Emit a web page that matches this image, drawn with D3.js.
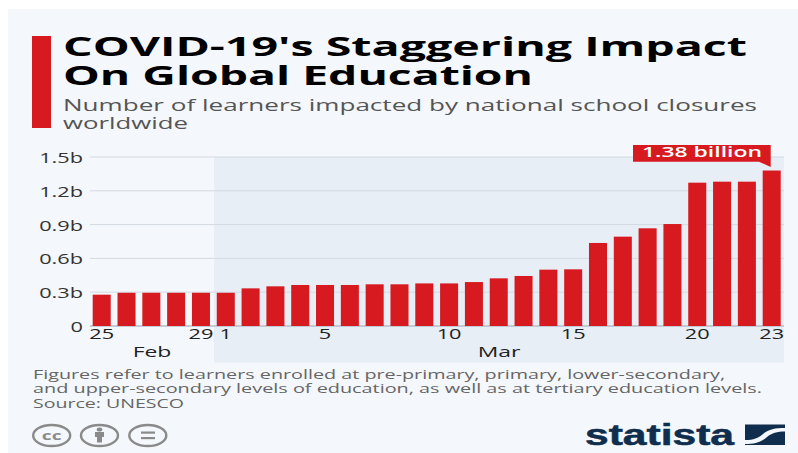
<!DOCTYPE html>
<html><head><meta charset="utf-8">
<script src="https://cdn.jsdelivr.net/npm/d3@7"></script>
<style>
html,body{margin:0;padding:0;background:#fff;overflow:hidden}
svg{display:block}
text{font-family:"Open Sans",sans-serif}
</style></head><body>
<svg id="c" width="798" height="453"></svg>
<script>
const days=["25 Feb","26 Feb","27 Feb","28 Feb","29 Feb","1 Mar","2 Mar","3 Mar","4 Mar","5 Mar","6 Mar","7 Mar","8 Mar","9 Mar","10 Mar","11 Mar","12 Mar","13 Mar","14 Mar","15 Mar","16 Mar","17 Mar","18 Mar","19 Mar","20 Mar","21 Mar","22 Mar","23 Mar"];
const learners=[0.278,0.295,0.295,0.295,0.295,0.295,0.334,0.352,0.364,0.364,0.364,0.37,0.37,0.378,0.378,0.39,0.423,0.444,0.5,0.503,0.737,0.793,0.867,0.905,1.272,1.281,1.281,1.38];
const yTicks=[0,0.3,0.6,0.9,1.2,1.5];
const xTicks=["25 Feb","29 Feb","1 Mar","5 Mar","10 Mar","15 Mar","20 Mar","23 Mar"];
const titleLines=[["COVID-19's Staggering Impact",747],["On Global Education",533]];
const subtitleLines=[["Number of learners impacted by national school closures",757],["worldwide",188]];
const footLines=[["Figures refer to learners enrolled at pre-primary, primary, lower-secondary,",725,379],["and upper-secondary levels of education, as well as at tertiary education levels.",762,392.5],["Source: UNESCO",184,408]];

const RED="#d71920",NAVY="#0f2d4d",PANEL="#f4f7fb";
const svg=d3.select("#c");
svg.append("rect").attr("x",8).attr("y",9).attr("width",790).attr("height",444).attr("fill",PANEL);
svg.append("rect").attr("x",214).attr("y",157).attr("width",570).attr("height",205.5).attr("fill","#e8eef6");
svg.append("rect").attr("x",32).attr("y",36).attr("width",19).attr("height",92).attr("fill",RED);

function fit(t,x,y,right,size,weight,fill){
  svg.append("text").attr("x",x).attr("y",y).attr("font-size",size).attr("font-weight",weight).attr("fill",fill)
    .attr("textLength",right-x).attr("lengthAdjust","spacingAndGlyphs").text(t);
}
titleLines.forEach((l,i)=>fit(l[0],63,[56,85][i],l[1],27.5,700,"#000"));
subtitleLines.forEach((l,i)=>fit(l[0],63,[111,129][i],l[1],16.5,400,"#555"));
footLines.forEach(l=>fit(l[0],33,l[2],l[1],13,400,"#666"));

const x=d3.scaleBand().domain(days).range([92.7,780.7]).paddingInner(0.274).paddingOuter(0);
const y=d3.scaleLinear().domain([0,1.5]).range([326,157]);

const yAxis=d3.axisLeft(y).tickValues(yTicks).tickFormat(d=>d===0?"0":d3.format(".1f")(d)+"b").tickSize(0);
const gy=svg.append("g").attr("transform","translate(83,0)").call(yAxis);
gy.select(".domain").remove();
gy.selectAll("text").attr("x",0).attr("dy",5.5).attr("font-size",14.5).attr("fill","#333").attr("transform","scale(1.5,1)").style("font-family","'Open Sans'");

svg.append("g").selectAll("line").data(yTicks).join("line")
  .attr("x1",90).attr("x2",784).attr("y1",d=>y(d)).attr("y2",d=>y(d))
  .attr("stroke",d=>d===0?"#b4bcc8":"#d3d9e2").attr("stroke-width",d=>d===0?1.5:1);

svg.append("g").selectAll("rect").data(days).join("rect")
  .attr("x",d=>x(d)).attr("width",x.bandwidth())
  .attr("y",(d,i)=>y(learners[i])).attr("height",(d,i)=>y(0)-y(learners[i])).attr("fill",RED);

const xAxis=d3.axisBottom(x).tickValues(xTicks).tickFormat(d=>d.split(" ")[0]).tickSize(0);
const gx=svg.append("g").attr("transform","translate(0,326)").call(xAxis);
gx.select(".domain").remove();
gx.selectAll("text").attr("y",13).attr("dy",0).attr("font-size",14.5).attr("fill","#222").attr("transform","scale(1.5,1)").style("font-family","'Open Sans'");

[["Feb",152],["Mar",499]].forEach(m=>{
  svg.append("text").attr("transform",`translate(${m[1]},356.7) scale(1.58,1)`).attr("text-anchor","middle")
    .attr("font-size",14.5).attr("fill","#222").text(m[0]);
});

svg.append("path").attr("d","M633 145H770.7V167L759 161.7H633Z").attr("fill",RED);
fit("1.38 billion",642,157.3,762,14.5,600,"#fff");

// licence icons
const G="#8a8a8a";
[51.7,99.5,147.8].forEach(c=>svg.append("ellipse").attr("cx",c).attr("cy",435.5).attr("rx",18.5).attr("ry",10.5).attr("fill","none").attr("stroke",G).attr("stroke-width",2.4));
svg.append("text").attr("transform","translate(51.7,440) scale(1.6,1)").attr("text-anchor","middle").attr("font-size",12).attr("font-weight",700).attr("fill",G).text("cc");
svg.append("ellipse").attr("cx",99.5).attr("cy",429.5).attr("rx",2.8).attr("ry",2).attr("fill",G);
svg.append("rect").attr("x",95).attr("y",432).attr("width",9).attr("height",5).attr("fill",G);
svg.append("rect").attr("x",97).attr("y",436.5).attr("width",5).attr("height",6).attr("fill",G);
svg.append("rect").attr("x",141).attr("y",431.5).attr("width",14).attr("height",2.2).attr("fill",G);
svg.append("rect").attr("x",141).attr("y",437).attr("width",14).attr("height",2.2).attr("fill",G);

// statista logo
svg.append("text").attr("x",585).attr("y",445).attr("font-size",29).attr("font-weight",700).attr("fill",NAVY)
  .attr("stroke",NAVY).attr("stroke-width",0.5)
  .attr("textLength",149).attr("lengthAdjust","spacingAndGlyphs").style("font-family","'Liberation Sans'").text("statista");
svg.append("rect").attr("x",745).attr("y",424.5).attr("width",40).attr("height",20.5).attr("fill",NAVY);
svg.append("path").attr("d","M745 440C754 440 758 438 763 434C769 429 775 428 785 428V431.5C777 431.5 772 433 767 437C761 442 755 444 745 444Z").attr("fill",PANEL);
</script>
</body></html>
